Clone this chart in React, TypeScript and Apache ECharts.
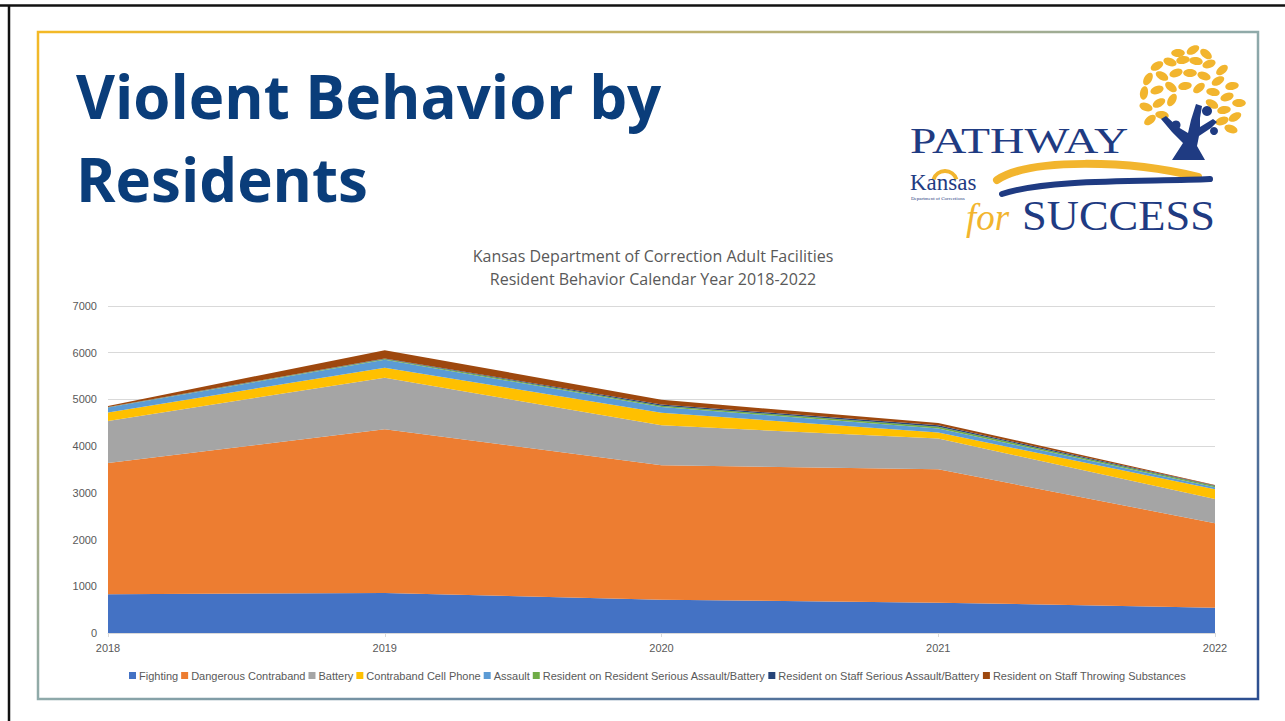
import React, { useEffect, useRef } from "react";
import * as echarts from "echarts";

const years = ["2018", "2019", "2020", "2021", "2022"];
const fighting = [830, 855, 710, 650, 540];
const dangerousContraband = [2810, 3506, 2880, 2856, 1810];
const battery = [900, 1105, 855, 656, 520];
const cellPhone = [180, 214, 272, 128, 207];
const assault = [107, 170, 120, 86, 43];
const rorSerious = [8, 15, 30, 40, 25];
const rosSerious = [5, 10, 25, 30, 10];
const throwing = [20, 180, 100, 50, 15];

const seriesDefs = [
  { name: "Fighting", data: fighting, color: "#4472C4" },
  { name: "Dangerous Contraband", data: dangerousContraband, color: "#ED7D31" },
  { name: "Battery", data: battery, color: "#A5A5A5" },
  { name: "Contraband Cell Phone", data: cellPhone, color: "#FFC000" },
  { name: "Assault", data: assault, color: "#5B9BD5" },
  { name: "Resident on Resident Serious Assault/Battery", data: rorSerious, color: "#70AD47" },
  { name: "Resident on Staff Serious Assault/Battery", data: rosSerious, color: "#264478" },
  { name: "Resident on Staff Throwing Substances", data: throwing, color: "#9E480E" },
];

const chartTitle1 = "Kansas Department of Correction Adult Facilities";
const chartTitle2 = "Resident Behavior Calendar Year 2018-2022";

const GOLD = "#F2B52E";
const NAVY = "#1F3B82";

const leaves: [number, number, number][] = [
  [1157, 66, 30], [1170, 62, -20], [1183, 60, 10], [1196, 61, -10], [1209, 64, 20], [1222, 70, 40],
  [1148, 79, 60], [1162, 76, -30], [1176, 73, 20], [1190, 73, 0], [1204, 76, -20], [1218, 81, 30], [1232, 86, 10],
  [1144, 93, 80], [1157, 90, 20], [1171, 87, -40], [1185, 86, 10], [1199, 88, 40], [1213, 92, -10], [1227, 97, 20], [1239, 103, 0],
  [1146, 107, -20], [1159, 103, 30], [1172, 100, 60], [1212, 104, -30], [1224, 110, 10], [1235, 117, 30],
  [1150, 120, 40], [1162, 115, -10], [1222, 121, 20], [1231, 129, -20], [1178, 53, 0], [1193, 50, 30], [1206, 54, -40],
];

export default function App() {
  const ref = useRef<HTMLDivElement>(null);
  useEffect(() => {
    if (!ref.current) return;
    const chart = echarts.init(ref.current, undefined, { renderer: "svg" });
    const graphics: any[] = [
      { type: "line", shape: { x1: 0, y1: 5.5, x2: 1285, y2: 5.5 }, style: { stroke: "#111", lineWidth: 2.5 } },
      { type: "line", shape: { x1: 9, y1: 5, x2: 9, y2: 721 }, style: { stroke: "#111", lineWidth: 2.5 } },
      {
        type: "rect",
        shape: { x: 38, y: 32, width: 1220, height: 667 },
        style: {
          fill: "none",
          lineWidth: 2.5,
          stroke: new echarts.graphic.LinearGradient(0, 0, 1, 1, [
            { offset: 0, color: "#F4B925" },
            { offset: 0.5, color: "#8FAAAA" },
            { offset: 1, color: "#2C4E90" },
          ]),
        },
      },
      { type: "text", x: 76, y: 66, style: { text: "Violent Behavior by", font: "bold 60px 'Open Sans'", fill: "#0A3D7A" } },
      { type: "text", x: 76, y: 149, style: { text: "Residents", font: "bold 60px 'Open Sans'", fill: "#0A3D7A" } },
      { type: "text", x: 653, y: 256, style: { text: chartTitle1, font: "16px 'Open Sans'", fill: "#595959", align: "center", verticalAlign: "middle" } },
      { type: "text", x: 653, y: 279, style: { text: chartTitle2, font: "16px 'Open Sans'", fill: "#595959", align: "center", verticalAlign: "middle" } },
      // logo
      ...leaves.map(([x, y, r]) => ({
        type: "ellipse",
        x, y, rotation: (r * Math.PI) / 180,
        shape: { cx: 0, cy: 0, rx: 6.8, ry: 4 },
        style: { fill: GOLD },
      })),
      {
        type: "polygon",
        shape: {
          points: [
            [1172, 160], [1205, 160], [1197, 146], [1199, 136], [1211, 128], [1217, 122], [1213, 119], [1200, 127],
            [1200, 118], [1202, 106], [1196, 104], [1191, 120], [1188, 133], [1178, 127], [1166, 116], [1161, 119],
            [1172, 132], [1183, 143],
          ],
        },
        style: { fill: NAVY },
      },
      { type: "circle", shape: { cx: 1207, cy: 111, r: 5 }, style: { fill: NAVY } },
      { type: "circle", shape: { cx: 1176, cy: 125, r: 4.5 }, style: { fill: NAVY } },
      { type: "circle", shape: { cx: 1214, cy: 131, r: 4 }, style: { fill: NAVY } },
      { type: "text", x: 910, y: 123, scaleX: 1.32, style: { text: "PATHWAY", font: "36px 'Liberation Serif'", fill: NAVY } },
      {
        type: "bezierCurve",
        shape: { x1: 997, y1: 180, cpx1: 1030, cpy1: 158, cpx2: 1130, cpy2: 160, x2: 1198, y2: 177 },
        style: { stroke: GOLD, lineWidth: 8, fill: "none", lineCap: "round" },
      },
      {
        type: "bezierCurve",
        shape: { x1: 1002, y1: 194, cpx1: 1050, cpy1: 178, cpx2: 1150, cpy2: 182, x2: 1210, y2: 179 },
        style: { stroke: NAVY, lineWidth: 6, fill: "none", lineCap: "round" },
      },
      { type: "arc", shape: { cx: 945, cy: 183, r: 12, startAngle: Math.PI * 1.1, endAngle: Math.PI * 1.9 }, style: { stroke: GOLD, lineWidth: 4, fill: "none" } },
      { type: "text", x: 910, y: 171, style: { text: "Kansas", font: "23px 'Liberation Serif'", fill: NAVY } },
      { type: "text", x: 911, y: 196, style: { text: "Department of Corrections", font: "5px 'Liberation Serif'", fill: NAVY } },
      { type: "text", x: 966, y: 199, style: { text: "for", font: "italic 37px 'Liberation Serif'", fill: GOLD } },
      { type: "text", x: 1022, y: 194, scaleX: 1.06, style: { text: "SUCCESS", font: "42px 'Liberation Serif'", fill: NAVY } },
    ];
    chart.setOption({
      animation: false,
      backgroundColor: "#fff",
      textStyle: { fontFamily: "'Liberation Sans'" },
      grid: { left: 108, right: 70, top: 306, bottom: 88, containLabel: false },
      legend: {
        left: 124,
        top: 665,
        icon: "rect",
        itemWidth: 7,
        itemHeight: 7,
        itemGap: 3,
        textStyle: { fontSize: 11, color: "#595959", padding: [0, 0, 0, -2] },
        data: seriesDefs.map((s) => s.name),
      },
      xAxis: {
        type: "category",
        boundaryGap: false,
        data: years,
        axisLine: { lineStyle: { color: "#D9D9D9" } },
        axisTick: { show: true, length: 4, lineStyle: { color: "#D9D9D9" } },
        axisLabel: { color: "#595959", fontSize: 11, margin: 9 },
      },
      yAxis: {
        type: "value",
        min: 0,
        max: 7000,
        interval: 1000,
        axisLine: { show: false },
        axisTick: { show: false },
        splitLine: { lineStyle: { color: "#D9D9D9" } },
        axisLabel: { color: "#595959", fontSize: 11, margin: 11, formatter: (v: number) => String(v) },
      },
      series: seriesDefs.map((s) => ({
        name: s.name,
        type: "line",
        stack: "total",
        data: s.data,
        symbol: "none",
        lineStyle: { width: 0 },
        areaStyle: { color: s.color, opacity: 1 },
        itemStyle: { color: s.color },
        emphasis: { disabled: true },
      })),
      graphic: graphics,
    });
    return () => chart.dispose();
  }, []);
  return <div ref={ref} style={{ position: "absolute", left: 0, top: 0, width: 1285, height: 721 }} />;
}
